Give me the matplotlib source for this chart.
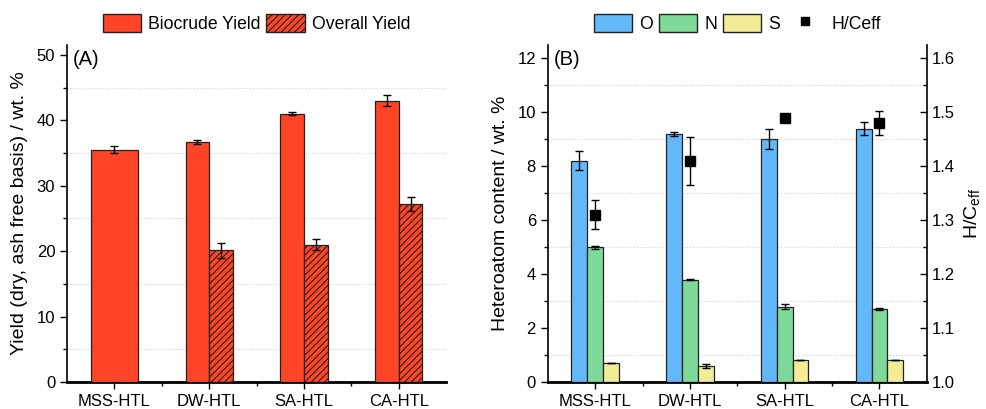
import numpy as np
import matplotlib
matplotlib.use("Agg")
import matplotlib.pyplot as plt
from matplotlib.patches import Patch
from matplotlib.lines import Line2D

plt.rcParams['font.family'] = ['Liberation Sans', 'DejaVu Sans']
plt.rcParams['font.size'] = 12
plt.rcParams['hatch.linewidth'] = 0.8

categories = ["MSS-HTL", "DW-HTL", "SA-HTL", "CA-HTL"]

# panel A
biocrude = [35.5, 36.7, 41.0, 43.0]
biocrude_err = [0.5, 0.3, 0.25, 0.8]
overall = [np.nan, 20.1, 21.0, 27.2]
overall_err = [np.nan, 1.2, 0.8, 1.0]

# panel B
o_content = [8.2, 9.2, 9.0, 9.4]
o_err = [0.35, 0.07, 0.37, 0.25]
n_content = [5.0, 3.8, 2.8, 2.7]
n_err = [0.05, 0.01, 0.08, 0.03]
s_content = [0.7, 0.6, 0.8, 0.8]
s_err = [0.01, 0.08, 0.0, 0.0]
hc_eff = [1.31, 1.41, 1.49, 1.48]
hc_err = [0.027, 0.045, 0.0, 0.022]

red = "#ff4526"
blue = "#63b8fa"
green = "#7fd99b"
yellow = "#f2ec96"
edge = "#222222"

fig = plt.figure(figsize=(9.87, 4.09), dpi=100)
axA = fig.add_axes([0.068, 0.066, 0.384, 0.824])
axB = fig.add_axes([0.555, 0.066, 0.384, 0.824])

x = np.arange(len(categories))
ekw = dict(ecolor="black", elinewidth=1, capsize=3, capthick=1)

# ---- panel A
w = 0.25
bx = np.array([0.0, -w / 2, -w / 2, -w / 2]) + x
bw = [0.5, w, w, w]
axA.bar(bx, biocrude, width=bw, color=red, edgecolor=edge, linewidth=0.9,
        yerr=biocrude_err, error_kw=ekw, zorder=3)
axA.bar(x[1:] + w / 2, overall[1:], width=w, color=red, edgecolor=edge, linewidth=0.9,
        hatch="/////", yerr=overall_err[1:], error_kw=ekw, zorder=3)
axA.set_ylim(0, 51.5)
axA.set_yticks([0, 10, 20, 30, 40, 50])
axA.set_yticks([5, 15, 25, 35, 45], minor=True)
axA.set_ylabel("Yield (dry, ash free basis) / wt. %", fontsize=14, labelpad=6)
axA.text(0.015, 0.985, "(A)", transform=axA.transAxes, fontsize=14.5, va="top", ha="left")
axA.legend(handles=[Patch(facecolor=red, edgecolor=edge, label="Biocrude Yield"),
                    Patch(facecolor=red, edgecolor=edge, hatch="/////", label="Overall Yield")],
           loc="lower center", bbox_to_anchor=(0.5, 1.0), ncol=2, frameon=False,
           fontsize=12.7, handlelength=2.2, handleheight=1.2, columnspacing=0.3,
           handletextpad=0.4, borderaxespad=0.3)

# ---- panel B
w = 1 / 6
axB.bar(x - w, o_content, width=w, color=blue, edgecolor=edge, linewidth=0.9,
        yerr=o_err, error_kw=ekw, zorder=3)
axB.bar(x, n_content, width=w, color=green, edgecolor=edge, linewidth=0.9,
        yerr=n_err, error_kw=ekw, zorder=3)
axB.bar(x + w, s_content, width=w, color=yellow, edgecolor=edge, linewidth=0.9,
        yerr=s_err, error_kw=ekw, zorder=3)
axB.set_ylim(0, 12.5)
axB.set_yticks(np.arange(0, 13, 2))
axB.set_yticks(np.arange(1, 12, 2), minor=True)
axB.set_ylabel("Heteroatom content / wt. %", fontsize=14, labelpad=6)
axB.text(0.015, 0.985, "(B)", transform=axB.transAxes, fontsize=14.5, va="top", ha="left")

axR = axB.twinx()
axR.errorbar(x, hc_eff, yerr=hc_err, fmt="s", color="black", markersize=7,
             zorder=4, **ekw)
axR.set_ylim(1.0, 1.625)
axR.set_yticks(np.arange(1.0, 1.61, 0.1))
axR.set_yticks(np.arange(1.05, 1.6, 0.1), minor=True)
axR.yaxis.set_major_formatter(matplotlib.ticker.FormatStrFormatter("%.1f"))
axR.set_ylabel("H/C$_{\\mathregular{eff}}$", fontsize=14, labelpad=6)
axR.tick_params(axis="y", which="major", direction="in", length=5, width=1, labelsize=12)
axR.tick_params(axis="y", which="minor", direction="in", length=3, width=1)
axR.spines["right"].set_linewidth(1.2)
axR.spines["top"].set_visible(False)
axR.spines["left"].set_visible(False)
axR.spines["bottom"].set_visible(False)

axB.legend(handles=[Patch(facecolor=blue, edgecolor=edge, label="O"),
                    Patch(facecolor=green, edgecolor=edge, label="N"),
                    Patch(facecolor=yellow, edgecolor=edge, label="S"),
                    Line2D([], [], marker="s", color="black", linestyle="none",
                           markersize=6, label="H/Ceff")],
           loc="lower center", bbox_to_anchor=(0.5, 1.0), ncol=4, frameon=False,
           fontsize=12.7, handlelength=2.2, handleheight=1.2, columnspacing=0.3,
           handletextpad=0.4, borderaxespad=0.3)

for ax in (axA, axB):
    ax.set_xlim(-0.5, 3.5)
    ax.set_xticks(x)
    ax.set_xticklabels(categories)
    ax.set_xticks([0.5, 1.5, 2.5], minor=True)
    ax.tick_params(axis="both", which="major", direction="out", length=5, width=1, labelsize=12)
    ax.tick_params(axis="both", which="minor", direction="out", length=3, width=1)
    ax.grid(axis="y", which="minor", linestyle=":", color="#cfcfcf", linewidth=0.8, zorder=0)
    ax.spines["top"].set_visible(False)
    ax.spines["right"].set_visible(False)
    ax.spines["left"].set_linewidth(1.2)
    ax.spines["bottom"].set_linewidth(2)
    ax.set_axisbelow(True)

fig.savefig("out.png", dpi=100)
